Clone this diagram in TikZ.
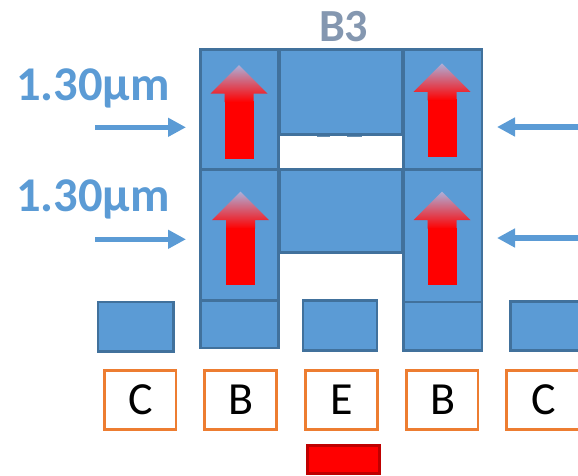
\documentclass[tikz,border=0pt]{standalone}
\usepackage{fontspec}
\setmainfont{Carlito}
\usetikzlibrary{arrows.meta,shadings}
\definecolor{bfill}{HTML}{5B9BD5}
\definecolor{bline}{HTML}{41719C}
\definecolor{oline}{HTML}{ED7D31}
\definecolor{tgray}{HTML}{8497B0}
\definecolor{apex}{HTML}{ADAFD8}
\tikzset{x=1pt,y=-1pt,
 plate/.style={draw=bline,line width=2.8pt,fill=bfill,inner sep=0pt,outer sep=0pt,anchor=north west},
 lbl/.style={draw=oline,line width=2.6pt,fill=white,inner sep=0pt,outer sep=0pt,anchor=north west,font=\fontsize{46}{46}\selectfont,text=black},
 emit/.style={draw=red!75!black,line width=2.6pt,fill=red,inner sep=0pt,outer sep=0pt,anchor=north west},
 dimtext/.style={font=\bfseries\fontsize{48.5}{48.5}\selectfont,text=bfill,inner sep=0pt,anchor=base},
 hint/.style={draw=bfill,line width=5.5pt,-{Triangle[length=18pt,width=18pt]}},
 title/.style={font=\bfseries\fontsize{46}{46}\selectfont,text=tgray,inner sep=0pt,anchor=base}}
\newcommand{\pl}[6][plate]{\pgfmathsetmacro\myw{#5-#3}\pgfmathsetmacro\myh{#6-#4}%
 \node[#1,minimum width=\myw pt,minimum height=\myh pt] (#2) at (#3,#4) {};}
\newcommand{\lb}[4]{\pgfmathsetmacro\myw{#4-#2}%
 \node[lbl,minimum width=\myw pt,minimum height=59pt] (#1) at (#2,370.3) {\hspace{1.5pt}\raisebox{-1.5pt}{#3}};}
\newcommand{\uparr}[2]{%
 \fill[red] (#1-14.5,#2+36) rectangle (#1+14.5,#2+93.5);
 \shade[top color=apex,bottom color=red] (#1,#2) -- (#1+28.5,#2+28.5) -- (#1+14.5,#2+28.5) -- (#1+14.5,#2+37) -- (#1-14.5,#2+37) -- (#1-14.5,#2+28.5) -- (#1-28.5,#2+28.5) -- cycle;}
\begin{document}
\begin{tikzpicture}
\useasboundingbox (0,0) rectangle (578,475);
\fill[bline!80!white] (316.7,135) rectangle (330,137);
\fill[bline!80!white] (346.7,135) rectangle (361.7,137);
\pl{sl}{200.3}{49.7}{278.4}{169.7}
\pl{sr}{403.6}{49.7}{482}{169.7}
\pl{tm}{279.6}{49.7}{402.4}{134.5}
\pl{ml}{200.3}{169.7}{278.4}{300.5}
\pl{mr}{403.6}{169.7}{482}{302}
\pl{mm}{279.6}{169.7}{402.4}{252.3}
\pl{cl}{98}{302}{173.3}{351.3}
\pl{bl}{200.3}{300.5}{278.4}{348}
\pl{em}{303}{300.7}{377}{350.7}
\pl{br}{403.6}{302}{482}{350.7}
\pl{cr}{510.7}{301.3}{590}{350.7}
\uparr{239}{65}
\uparr{442}{63.3}
\uparr{240.5}{191.7}
\uparr{442}{191.7}
\lb{lc1}{104.3}{C}{176}
\lb{lb1}{204.7}{B}{276.7}
\lb{le}{305.3}{E}{377.3}
\lb{lb2}{406.3}{B}{478}
\lb{lc2}{506.7}{C}{579}
\pl[emit]{emk}{307.3}{445.3}{379.3}{473.7}
\node[title] (t) at (343.7,41.7) {B3};
\node[dimtext] (d1) at (93,100) {1.30µm};
\node[dimtext] (d2) at (93,211.7) {1.30µm};
\coordinate (a1s) at (95,127.3); \coordinate (a1e) at (186,127.3);
\coordinate (a2s) at (95,239.3); \coordinate (a2e) at (186,239.3);
\coordinate (a3s) at (578,127); \coordinate (a3e) at (497,127);
\coordinate (a4s) at (578,238); \coordinate (a4e) at (497,238);
\draw[hint] (a1s) -- (a1e);
\draw[hint] (a2s) -- (a2e);
\draw[hint] (a3s) -- (a3e);
\draw[hint] (a4s) -- (a4e);
\end{tikzpicture}
\end{document}
